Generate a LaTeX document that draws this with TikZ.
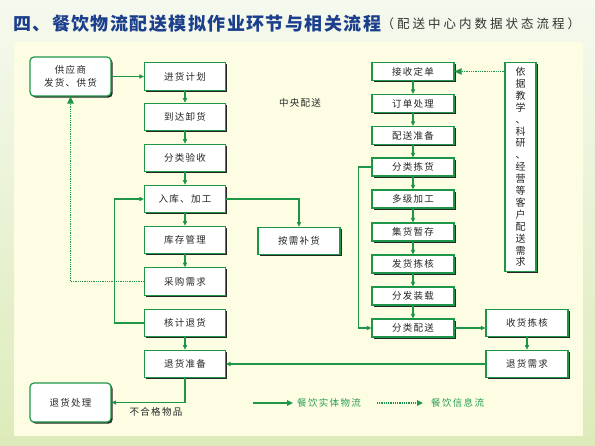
\documentclass[tikz,border=0pt]{standalone}
\usepackage{fontspec}
\usetikzlibrary{arrows.meta,shadows}
\newfontfamily\cjk{Noto Sans CJK SC}[LetterSpace=14]
\newfontfamily\cjkt{Noto Sans CJK SC}[LetterSpace=8]
\newfontfamily\cjks{Noto Sans CJK SC}[LetterSpace=24]
\definecolor{grn}{HTML}{1E9648}
\definecolor{lgn}{HTML}{2E9E55}
\definecolor{ttl}{HTML}{1B3F8C}
\definecolor{panel}{HTML}{FDFDE4}
\definecolor{bgtop}{HTML}{F5F9EE}
\definecolor{bgbot}{HTML}{DDEBBA}
\tikzset{
  box/.style={draw=grn, line width=1.2pt, fill=white, minimum width=81pt, inner sep=0pt,
    font=\cjk\fontsize{9.5}{11}\selectfont, text=black!85,
    drop shadow={shadow xshift=1.6pt, shadow yshift=-1.6pt, fill=black!85, opacity=1}},
  bigbox/.style={box, minimum height=27.5pt},
  smallbox/.style={box, minimum height=18pt, minimum width=82pt},
  rbox/.style={box, rounded corners=4pt, minimum height=39pt},
  arr/.style={draw=grn, line width=1.1pt, -{Triangle[length=4.5pt,width=4pt]}},
  info/.style={draw=grn, line width=1.1pt, dash pattern=on 1pt off 0.8pt, -{Triangle[length=7pt,width=6.5pt]}},
  lbl/.style={inner sep=0pt, font=\cjk\fontsize{9.5}{11}\selectfont, text=black!85},
}
\begin{document}
\begin{tikzpicture}[x=1pt,y=-1pt]
\useasboundingbox (0,0) rectangle (595,445);
\shade[top color=bgtop, bottom color=bgbot] (0,0) rectangle (595,445);
\fill[panel] (14,42) rectangle (583,436);

\node[anchor=west, inner sep=0pt, text=ttl, font=\cjkt\bfseries\fontsize{18}{20}\selectfont] (title) at (13,24) {四、餐饮物流配送模拟作业环节与相关流程};
\node[anchor=west, inner sep=0pt, text=black!80, font=\cjks\fontsize{12.5}{14}\selectfont] (sub) at (title.east) {（配送中心内数据状态流程）};

% left column
\node[rbox, align=center, font=\cjk\fontsize{9.5}{13}\selectfont] (sup) at (70.5,76.5) {供应商\\发货、供货};
\node[bigbox] (jhjh) at (185,76.5) {进货计划};
\node[bigbox] (ddxh) at (185,117) {到达卸货};
\node[bigbox] (flys) at (185,158) {分类验收};
\node[bigbox] (rkjg) at (185,199) {入库、加工};
\node[bigbox] (kcgl) at (185,240) {库存管理};
\node[bigbox] (cgxq) at (185,281.5) {采购需求};
\node[bigbox] (hjth) at (185,323) {核计退货};
\node[bigbox] (thzb) at (185,364) {退货准备};
\node[rbox] (thcl) at (70.5,402.5) {退货处理};
\node[bigbox, minimum width=82pt] (axbh) at (299,241) {按需补货};

% right column
\node[smallbox] (jsdd) at (413,71.5) {接收定单};
\node[smallbox] (ddcl) at (413,103.5) {订单处理};
\node[smallbox] (pszb) at (413,135.5) {配送准备};
\node[smallbox] (fljh) at (413,167) {分类拣货};
\node[smallbox] (djjg) at (413,199) {多级加工};
\node[smallbox] (jhzc) at (413,232) {集货暂存};
\node[smallbox] (fhjh) at (413,264) {发货拣核};
\node[smallbox] (ffzz) at (413,296) {分发装载};
\node[smallbox] (flps) at (413,328) {分类配送};
\node[bigbox, minimum width=82pt] (shjh) at (527,323) {收货拣核};
\node[bigbox, minimum width=82pt] (thxq) at (527,364) {退货需求};
\node[box, minimum width=31pt, minimum height=209pt, align=center,
  font=\cjk\fontsize{10}{11.9}\selectfont] (yj) at (520.5,167)
  {依\\据\\教\\学\\、\\科\\研\\、\\经\\营\\等\\客\\户\\配\\送\\需\\求};

\node[lbl] (zy) at (300,103) {中央配送};

% connectors left
\draw[arr] (sup.east) -- (jhjh.west);
\draw[arr] (jhjh.south) -- (ddxh.north);
\draw[arr] (ddxh.south) -- (flys.north);
\draw[arr] (flys.south) -- (rkjg.north);
\draw[arr] (rkjg.south) -- (kcgl.north);
\draw[arr] (kcgl.south) -- (cgxq.north);
\draw[arr] (hjth.south) -- (thzb.north);
\draw[arr] (rkjg.east) -| (axbh.north);
\draw[arr] (hjth.west) -- ++(-29,0) |- (rkjg.west);
\draw[info] (cgxq.west) -| (sup.south);
\draw[arr] (thzb.south) |- (thcl.east);
\node[lbl] (bhg) at (156,412) {不合格物品};
\draw[arr] (thxq.west) -- (thzb.east);

% connectors right
\draw[arr] (jsdd.south) -- (ddcl.north);
\draw[arr] (ddcl.south) -- (pszb.north);
\draw[arr] (pszb.south) -- (fljh.north);
\draw[arr] (fljh.south) -- (djjg.north);
\draw[arr] (djjg.south) -- (jhzc.north);
\draw[arr] (jhzc.south) -- (fhjh.north);
\draw[arr] (fhjh.south) -- (ffzz.north);
\draw[arr] (ffzz.south) -- (flps.north);
\draw[arr] (fljh.west) -- ++(-13,0) |- (flps.west);
\draw[arr] (flps.east) -- (flps.east -| shjh.west);
\draw[arr] (shjh.south) -- (thxq.north);
\draw[info] (yj.west |- jsdd.east) -- (jsdd.east);

% legend
\coordinate (l1) at (253,403);
\coordinate (l2) at (293,403);
\coordinate (l3) at (377,403);
\coordinate (l4) at (423,403);
\draw[draw=grn, line width=1.1pt, -{Triangle[length=6pt,width=5.5pt]}] (l1) -- (l2);
\node[lbl, anchor=west, text=lgn] (lg1) at (297,403) {餐饮实体物流};
\draw[draw=grn, line width=1.1pt, dash pattern=on 1pt off 0.8pt, -{Triangle[length=6pt,width=5.5pt]}] (l3) -- (l4);
\node[lbl, anchor=west, text=lgn] (lg2) at (431,403) {餐饮信息流};
\end{tikzpicture}
\end{document}
